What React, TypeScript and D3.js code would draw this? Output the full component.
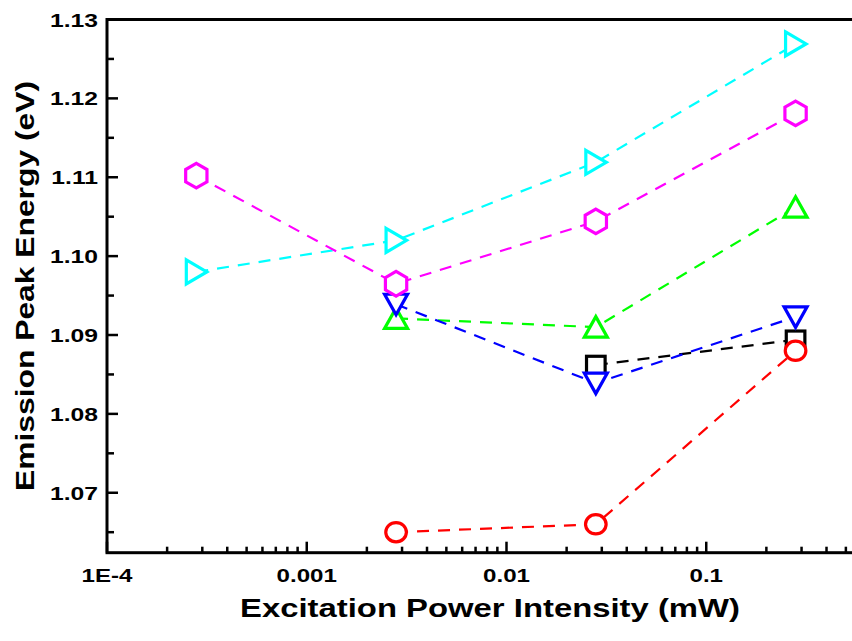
import React from "react";
import * as d3 from "d3";

const powers = [2.8e-4, 2.8e-3, 2.8e-2, 2.8e-1];
const blackSquare = [null, null, 1.0862, 1.0894];
const redCircle = [null, 1.065, 1.066, 1.088];
const greenUp = [null, 1.0921, 1.091, 1.1062];
const blueDown = [null, 1.0939, 1.0839, 1.0923];
const cyanRight = [1.098, 1.102, 1.1119, 1.1269];
const magentaHex = [1.1102, 1.0965, 1.1044, 1.1181];

const yTicks = [1.07, 1.08, 1.09, 1.1, 1.11, 1.12, 1.13];
const xTicks = [1e-4, 1e-3, 1e-2, 1e-1];
const xTickLabels = ["1E-4", "0.001", "0.01", "0.1"];

const series = [
  { name: "black", color: "#000000", shape: "square", values: blackSquare },
  { name: "red", color: "#ff0000", shape: "circle", values: redCircle },
  { name: "green", color: "#00ff00", shape: "up", values: greenUp },
  { name: "blue", color: "#0000ff", shape: "down", values: blueDown },
  { name: "cyan", color: "#00ffff", shape: "right", values: cyanRight },
  { name: "magenta", color: "#ff00ff", shape: "hex", values: magentaHex },
];

const W = 852;
const H = 641;
const left = 107;
const top = 19.5;
const bottom = 552.7;
const right = 906;

const FONT = "'Liberation Sans', Arial, sans-serif";

function marker(shape: string, x: number, y: number, color: string, key: string) {
  const common = { fill: "#ffffff", stroke: color, strokeWidth: 3.2, strokeLinejoin: "miter" as const };
  if (shape === "circle") return <ellipse key={key} cx={x} cy={y} rx={10.3} ry={9.6} {...common} />;
  if (shape === "square") return <rect key={key} x={x - 9.3} y={y - 8.7} width={18.6} height={17.4} {...common} />;
  let pts: [number, number][] = [];
  if (shape === "up") pts = [[x, y - 10.5], [x + 11.5, y + 10], [x - 11.5, y + 10]];
  if (shape === "down") pts = [[x - 11.5, y - 10], [x + 11.5, y - 10], [x, y + 10.5]];
  if (shape === "right") pts = [[x - 10, y - 12], [x + 10.5, y], [x - 10, y + 12]];
  if (shape === "hex") {
    for (let i = 0; i < 6; i++) {
      const a = (Math.PI / 3) * i - Math.PI / 2;
      pts.push([x + 12.3 * Math.cos(a), y + 12.3 * Math.sin(a)]);
    }
  }
  return <polygon key={key} points={pts.map((p) => p.join(",")).join(" ")} {...common} />;
}

function SText(props: { x: number; y: number; sx: number; rotate?: number; size: number; anchor: string; children: any }) {
  const { x, y, sx, rotate, size, anchor, children } = props;
  return (
    <text
      transform={`translate(${x},${y})${rotate ? ` rotate(${rotate})` : ""} scale(${sx},1)`}
      textAnchor={anchor}
      fontFamily={FONT}
      fontWeight="bold"
      fontSize={size}
      fill="#000"
    >
      {children}
    </text>
  );
}

export default function App() {
  const x = d3.scaleLog().domain([1e-4, 1]).range([left, right]);
  const y = d3.scaleLinear().domain([1.0624, 1.13]).range([bottom, top]);

  const minorX: number[] = [];
  for (let d = -4; d < 0; d++) for (let m = 2; m <= 9; m++) minorX.push(m * Math.pow(10, d));
  const minorY: number[] = [];
  for (let v = 1.065; v < 1.13; v += 0.01) minorY.push(v);

  const line = d3
    .line<[number, number | null]>()
    .defined((d) => d[1] !== null)
    .x((d) => x(d[0]))
    .y((d) => y(d[1] as number));

  return (
    <svg
      width={W}
      height={H}
      style={{ position: "absolute", left: 0, top: 0, background: "#fff" }}
    >
      <rect x={0} y={0} width={W} height={H} fill="#fff" />
      {yTicks.map((t) => (
        <line key={"yt" + t} x1={left} x2={left + 11} y1={y(t)} y2={y(t)} stroke="#000" strokeWidth={2.5} />
      ))}
      {minorY.map((t) => (
        <line key={"ym" + t} x1={left} x2={left + 7} y1={y(t)} y2={y(t)} stroke="#000" strokeWidth={2.5} />
      ))}
      {xTicks.map((t) => (
        <line key={"xt" + t} x1={x(t)} x2={x(t)} y1={bottom} y2={bottom - 11} stroke="#000" strokeWidth={2.5} />
      ))}
      {minorX.map((t) => (
        <line key={"xm" + t} x1={x(t)} x2={x(t)} y1={bottom} y2={bottom - 6} stroke="#000" strokeWidth={2.5} />
      ))}
      <rect x={left} y={top} width={right - left} height={bottom - top} fill="none" stroke="#000" strokeWidth={3} />

      {series.map((s) => {
        const pts: [number, number | null][] = powers.map((p, i) => [p, s.values[i]]);
        return (
          <g key={s.name}>
            <path d={line(pts) || ""} fill="none" stroke={s.color} strokeWidth={2.2} strokeDasharray="12 9" />
            {pts
              .filter((d) => d[1] !== null)
              .map((d, i) => marker(s.shape, x(d[0]), y(d[1] as number), s.color, s.name + i))}
          </g>
        );
      })}

      {yTicks.map((t) => (
        <SText key={"yl" + t} x={98} y={y(t) + 7} sx={1.3} size={19} anchor="end">
          {t.toFixed(2)}
        </SText>
      ))}
      {xTicks.map((t, i) => (
        <SText key={"xl" + t} x={x(t)} y={582} sx={1.27} size={19} anchor="middle">
          {xTickLabels[i]}
        </SText>
      ))}
      <SText x={490} y={617} sx={1.24} size={26.5} anchor="middle">
        Excitation Power Intensity (mW)
      </SText>
      <SText x={33.5} y={286} sx={1.2} rotate={-90} size={26.5} anchor="middle">
        Emission Peak Energy (eV)
      </SText>
    </svg>
  );
}
